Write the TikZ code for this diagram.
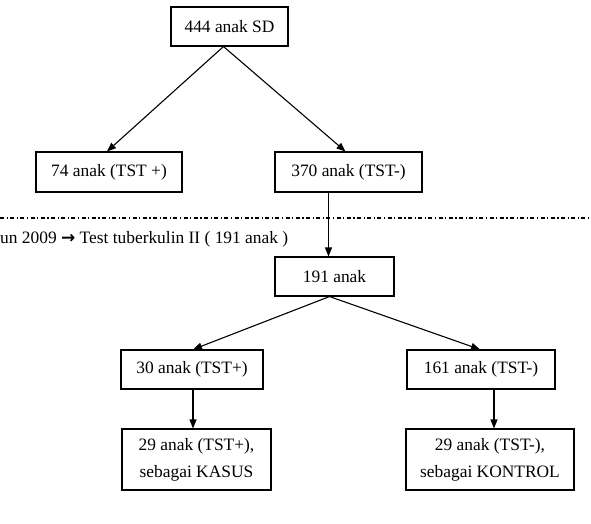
\documentclass[tikz,border=0pt]{standalone}
\usepackage{fontspec}
\setmainfont{Liberation Serif}
\newfontfamily\arrowfont{DejaVu Sans}
\usetikzlibrary{arrows.meta,positioning}
\tikzset{
    flowBox/.style={
        draw,
        line width=1.1pt,
        align=center,
        inner sep=2pt,
        minimum height=39pt,
        font=\fontsize{17.4}{27}\selectfont
    },
    flowArrow/.style={
        -{Triangle[length=9pt,width=7pt]},
        line width=1.1pt
    },
    flowDivider/.style={
        line width=1.1pt,
        dash pattern=on 4pt off 2.5pt on 1.2pt off 2.5pt
    }
}
\begin{document}
\begin{tikzpicture}[x=1pt,y=-1pt]
    \useasboundingbox (0,0) rectangle (591,524);

    \node[flowBox,minimum width=117pt] (sd) at (229.5,26.5) {444 anak SD};
    \node[flowBox,minimum width=146pt,minimum height=40pt] (pos1) at (109,172) {74 anak (TST +)};
    \node[flowBox,minimum width=147pt,minimum height=40pt] (neg1) at (348.5,172) {370 anak (TST-)};

    % second test
    \draw[flowDivider] (0,218) -- (591,218);
    \node[anchor=west,inner sep=0pt,font=\fontsize{17.4}{21}\selectfont] (note) at (0,239)
        {un 2009 {\arrowfont\bfseries\fontsize{17}{20}\selectfont →} Test tuberkulin II ( 191 anak )};

    \node[flowBox,minimum width=119pt] (retest) at (334.5,276.5) {191 anak};
    \node[flowBox,minimum width=142pt] (pos2) at (192,369.5) {30 anak (TST+)};
    \node[flowBox,minimum width=148pt] (neg2) at (481,369.5) {161 anak (TST-)};
    \node[flowBox,minimum width=149pt,minimum height=61pt] (kasus) at (196.5,459.5) {29 anak (TST+),\\sebagai KASUS};
    \node[flowBox,minimum width=168pt,minimum height=61pt] (kontrol) at (490,459.5) {29 anak (TST-),\\sebagai KONTROL};

    \draw[flowArrow] ([xshift=-6pt]sd.south) -- ([xshift=-2pt]pos1.north);
    \draw[flowArrow] ([xshift=-6pt]sd.south) -- ([xshift=-3pt]neg1.north);
    \draw[flowArrow] ([xshift=-20pt]neg1.south) -- ([xshift=-20pt]neg1.south |- retest.north);
    \draw[flowArrow] ([xshift=-5pt]retest.south) -- ([xshift=1pt]pos2.north);
    \draw[flowArrow] ([xshift=-5pt]retest.south) -- ([xshift=-1pt]neg2.north);
    \draw[flowArrow] ([xshift=1pt]pos2.south) -- ([xshift=1pt]pos2.south |- kasus.north);
    \draw[flowArrow] ([xshift=13pt]neg2.south) -- ([xshift=13pt]neg2.south |- kontrol.north);
\end{tikzpicture}
\end{document}
